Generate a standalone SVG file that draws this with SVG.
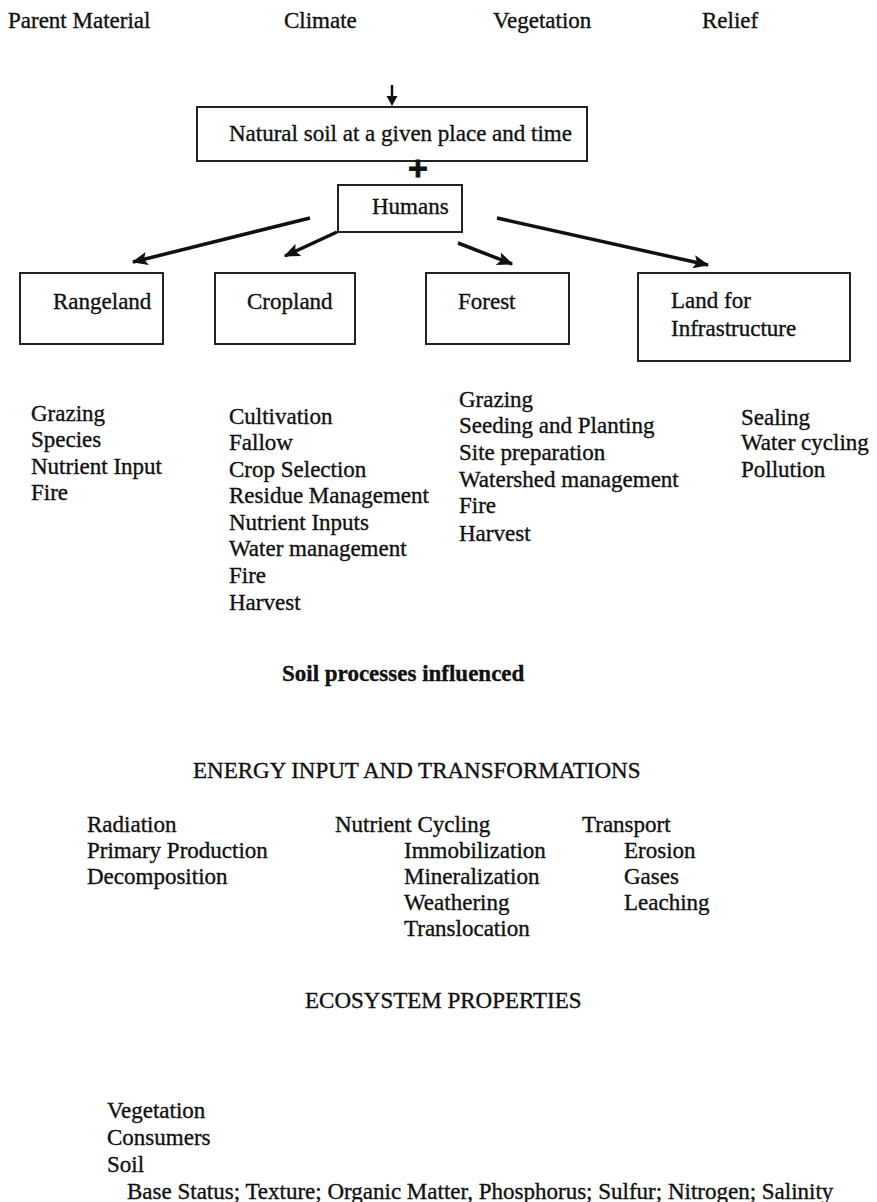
<svg xmlns="http://www.w3.org/2000/svg" width="877" height="1202" viewBox="0 0 877 1202">
  <style>
    text { font-family: "Liberation Serif", "Times New Roman", serif; font-size: 23px; fill: #111; stroke: #111; stroke-width: 0.35px; }
    .b { font-weight: bold; }
    .plus { font-family: "Liberation Sans", Arial, sans-serif; font-size: 34px; font-weight: bold; stroke-width: 0.8px; }
    .box { fill: #fff; stroke: #222; stroke-width: 2; }
    .conn { stroke: #111; stroke-width: 3.5; fill: none; marker-end: url(#ah); }
  </style>
  <defs>
    <marker id="ah" viewBox="0 0 12 10" refX="11" refY="5" markerWidth="4.6" markerHeight="3.8" orient="auto" markerUnits="strokeWidth">
      <path d="M0,0 L12,5 L0,10 L2.5,5 z" fill="#111"/>
    </marker>
  </defs>
  <rect width="877" height="1202" fill="#fff"/>

  <!-- soil-forming factors -->
  <g id="factors">
    <text x="8" y="28">Parent Material</text>
    <text x="284" y="28">Climate</text>
    <text x="493" y="28">Vegetation</text>
    <text x="702" y="28">Relief</text>
  </g>

  <g id="natural-soil">
    <rect class="box" x="197" y="107" width="390" height="54"/>
    <text x="229" y="141">Natural soil at a given place and time</text>
  </g>
  <text id="plus" class="plus" x="418" y="180" text-anchor="middle">+</text>

  <g id="humans">
    <rect class="box" x="338" y="185" width="124" height="47"/>
    <text x="372" y="214">Humans</text>
  </g>

  <g id="rangeland">
    <rect class="box" x="20" y="273" width="143" height="71"/>
    <text x="53" y="309">Rangeland</text>
  </g>
  <g id="cropland">
    <rect class="box" x="215" y="273" width="140" height="71"/>
    <text x="247" y="309">Cropland</text>
  </g>
  <g id="forest">
    <rect class="box" x="426" y="273" width="143" height="71"/>
    <text x="458" y="309">Forest</text>
  </g>
  <g id="infrastructure">
    <rect class="box" x="638" y="273" width="212" height="88"/>
    <text x="671" y="308">Land for</text>
    <text x="671" y="336">Infrastructure</text>
  </g>

  <!-- connectors -->
  <g id="connectors">
    <line x1="392" y1="85" x2="392" y2="98" stroke="#111" stroke-width="2.5"/>
    <path d="M386.5,96 L397.5,96 L392,106 z" fill="#111"/>
    <line class="conn" x1="310" y1="218" x2="133" y2="262"/>
    <line class="conn" x1="337" y1="232" x2="285" y2="256"/>
    <line class="conn" x1="458" y1="243" x2="512" y2="264"/>
    <line class="conn" x1="497" y1="218" x2="708" y2="265"/>
  </g>

  <!-- practices under each land use -->
  <g id="rangeland-practices">
    <text x="31" y="421">Grazing</text>
    <text x="31" y="447">Species</text>
    <text x="31" y="474">Nutrient Input</text>
    <text x="31" y="500">Fire</text>
  </g>
  <g id="cropland-practices">
    <text x="229" y="424">Cultivation</text>
    <text x="229" y="450">Fallow</text>
    <text x="229" y="477">Crop Selection</text>
    <text x="229" y="503">Residue Management</text>
    <text x="229" y="530">Nutrient Inputs</text>
    <text x="229" y="556">Water management</text>
    <text x="229" y="583">Fire</text>
    <text x="229" y="610">Harvest</text>
  </g>
  <g id="forest-practices">
    <text x="459" y="407">Grazing</text>
    <text x="459" y="433">Seeding and Planting</text>
    <text x="459" y="460">Site preparation</text>
    <text x="459" y="487">Watershed management</text>
    <text x="459" y="513">Fire</text>
    <text x="459" y="541">Harvest</text>
  </g>
  <g id="infrastructure-practices">
    <text x="741" y="425">Sealing</text>
    <text x="741" y="450">Water cycling</text>
    <text x="741" y="477">Pollution</text>
  </g>

  <text id="processes-title" class="b" x="282" y="681">Soil processes influenced</text>
  <text id="energy-title" x="193" y="778">ENERGY INPUT AND TRANSFORMATIONS</text>

  <g id="energy">
    <text x="87" y="832">Radiation</text>
    <text x="87" y="858">Primary Production</text>
    <text x="87" y="884">Decomposition</text>
  </g>
  <g id="nutrient-cycling">
    <text x="335" y="832">Nutrient Cycling</text>
    <text x="404" y="858">Immobilization</text>
    <text x="404" y="884">Mineralization</text>
    <text x="404" y="910">Weathering</text>
    <text x="404" y="936">Translocation</text>
  </g>
  <g id="transport">
    <text x="582" y="832">Transport</text>
    <text x="624" y="858">Erosion</text>
    <text x="624" y="884">Gases</text>
    <text x="624" y="910">Leaching</text>
  </g>

  <text id="ecosystem-title" x="305" y="1008">ECOSYSTEM PROPERTIES</text>
  <g id="ecosystem">
    <text x="107" y="1118">Vegetation</text>
    <text x="107" y="1145">Consumers</text>
    <text x="107" y="1172">Soil</text>
    <text x="127" y="1199">Base Status; Texture; Organic Matter, Phosphorus; Sulfur; Nitrogen; Salinity</text>
  </g>
</svg>
